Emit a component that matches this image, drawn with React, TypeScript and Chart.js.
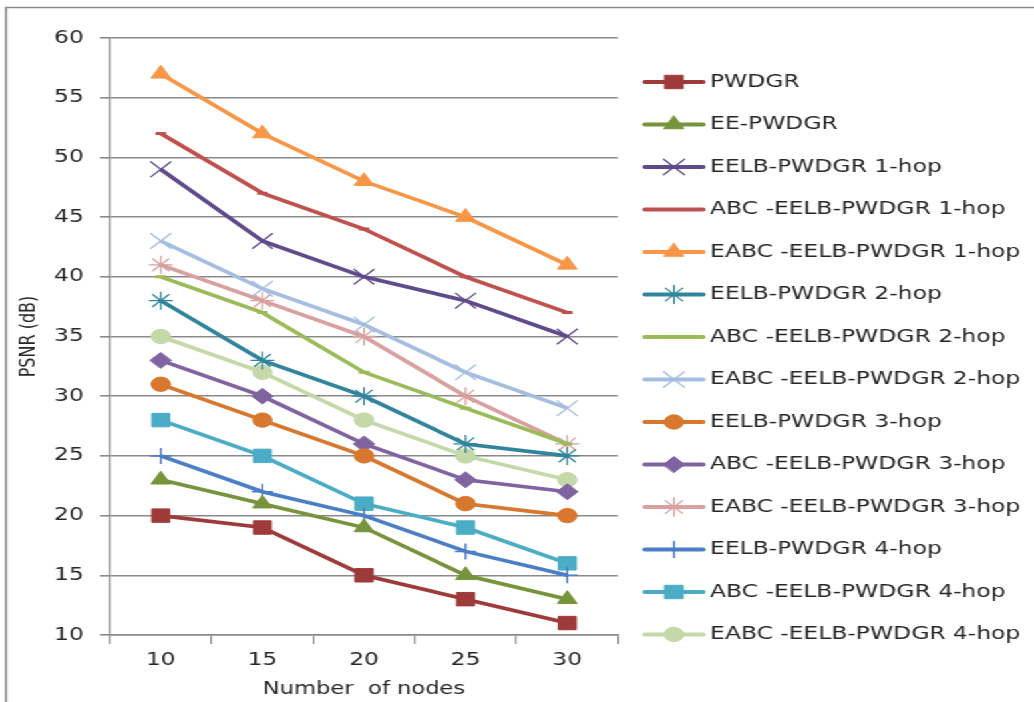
import React, { useEffect, useRef } from "react";
import { Chart, registerables } from "chart.js";
import { drawPoint } from "chart.js/helpers";

Chart.register(...registerables);

// ---- data ----
const categories = ["10", "15", "20", "25", "30"];

const pwdgr = [20, 19, 15, 13, 11];
const eePwdgr = [23, 21, 19, 15, 13];
const eelb1 = [49, 43, 40, 38, 35];
const abc1 = [52, 47, 44, 40, 37];
const eabc1 = [57, 52, 48, 45, 41];
const eelb2 = [38, 33, 30, 26, 25];
const abc2 = [40, 37, 32, 29, 26];
const eabc2 = [43, 39, 36, 32, 29];
const eelb3 = [31, 28, 25, 21, 20];
const abc3 = [33, 30, 26, 23, 22];
const eabc3 = [41, 38, 35, 30, 26];
const eelb4 = [25, 22, 20, 17, 15];
const abc4 = [28, 25, 21, 19, 16];
const eabc4 = [35, 32, 28, 25, 23];

const seriesValues = [pwdgr, eePwdgr, eelb1, abc1, eabc1, eelb2, abc2, eabc2, eelb3, abc3, eabc3, eelb4, abc4, eabc4];

const seriesLabels = [
  "PWDGR",
  "EE-PWDGR",
  "EELB-PWDGR 1-hop",
  "ABC -EELB-PWDGR 1-hop",
  "EABC -EELB-PWDGR 1-hop",
  "EELB-PWDGR 2-hop",
  "ABC -EELB-PWDGR 2-hop",
  "EABC -EELB-PWDGR 2-hop",
  "EELB-PWDGR 3-hop",
  "ABC -EELB-PWDGR 3-hop",
  "EABC -EELB-PWDGR 3-hop",
  "EELB-PWDGR 4-hop",
  "ABC -EELB-PWDGR 4-hop",
  "EABC -EELB-PWDGR 4-hop",
];

const seriesColors = [
  "#9E3B3A",
  "#77933C",
  "#5F4B8B",
  "#C0504D",
  "#F79646",
  "#31849B",
  "#9BBB59",
  "#A5BEE0",
  "#D8772E",
  "#8064A2",
  "#D9A0A0",
  "#4A7EC5",
  "#4BACC6",
  "#C4D8A8",
];

const seriesMarkers = [
  "rect",
  "triangle",
  "crossRot",
  "line",
  "triangle",
  "star",
  "line",
  "crossRot",
  "circle",
  "rectRot",
  "star",
  "cross",
  "rect",
  "circle",
];

const markerRadius = [9.5, 8.5, 11, 4, 8.5, 9, 4, 11, 7.2, 8, 9, 8, 9.5, 7.2];
const markerBorder = [1, 1, 1.3, 3, 1, 1.3, 3, 1.3, 1, 1, 1.3, 1.5, 1, 1];

// ---- layout (canvas units, canvas stretched horizontally) ----
const STRETCH = 1.3308;
const CW = 1034 / STRETCH;
const CH = 702;
const AREA_LEFT = 110 / STRETCH;
const AREA_RIGHT = 618 / STRETCH;
const AREA_TOP = 38;
const AREA_BOTTOM = 635;
const LEG_X0 = 645 / STRETCH;
const LEG_X1 = 703 / STRETCH;
const LEG_TEXT_X = 710 / STRETCH;
const LEG_Y0 = 82;
const LEG_STEP = 42.5;

const FONT_FAMILY = '"DejaVu Sans", sans-serif';
const TEXT_COLOR = "#262626";
const GRID_COLOR = "#8a8a8a";

const framePlugin = {
  id: "frame",
  beforeDraw(chart: any) {
    const ctx = chart.ctx;
    ctx.save();
    ctx.fillStyle = "#ffffff";
    ctx.fillRect(0, 0, chart.width, chart.height);
    ctx.strokeStyle = "#8c8c8c";
    ctx.lineWidth = 1.6;
    ctx.beginPath();
    ctx.moveTo(4.5, chart.height);
    ctx.lineTo(4.5, 7.5);
    ctx.lineTo(chart.width, 7.5);
    ctx.stroke();
    ctx.restore();
  },
};

const legendPlugin = {
  id: "sideLegend",
  afterDraw(chart: any) {
    const ctx = chart.ctx;
    chart.data.datasets.forEach((ds: any, i: number) => {
      const y = LEG_Y0 + i * LEG_STEP;
      ctx.save();
      ctx.strokeStyle = ds.borderColor;
      ctx.lineWidth = 4;
      ctx.lineCap = "round";
      ctx.beginPath();
      ctx.moveTo(LEG_X0, y);
      ctx.lineTo(LEG_X1, y);
      ctx.stroke();
      if (ds.pointStyle !== "line") {
        ctx.fillStyle = ds.pointBackgroundColor;
        ctx.strokeStyle = ds.pointBorderColor;
        ctx.lineWidth = ds.pointBorderWidth;
        drawPoint(
          ctx,
          { pointStyle: ds.pointStyle, rotation: 0, radius: ds.pointRadius, borderWidth: ds.pointBorderWidth },
          (LEG_X0 + LEG_X1) / 2,
          y
        );
      }
      ctx.fillStyle = TEXT_COLOR;
      ctx.font = `17.6px ${FONT_FAMILY}`;
      ctx.textBaseline = "middle";
      ctx.textAlign = "left";
      ctx.fillText(ds.label, LEG_TEXT_X, y);
      ctx.restore();
    });
  },
};

export default function App() {
  const canvasRef = useRef<HTMLCanvasElement | null>(null);

  useEffect(() => {
    if (!canvasRef.current) return;
    const datasets = seriesValues.map((vals, i) => ({
      label: seriesLabels[i],
      data: vals,
      borderColor: seriesColors[i],
      backgroundColor: seriesColors[i],
      pointBackgroundColor: seriesColors[i],
      pointBorderColor: seriesColors[i],
      pointStyle: seriesMarkers[i],
      pointRadius: markerRadius[i],
      pointBorderWidth: markerBorder[i],
      borderWidth: 3.6,
      tension: 0,
      fill: false,
    }));

    const chart = new Chart(canvasRef.current, {
      type: "line",
      data: { labels: categories, datasets },
      options: {
        animation: false,
        responsive: false,
        devicePixelRatio: 1,
        layout: {
          padding: { left: 0, right: CW - AREA_RIGHT, top: AREA_TOP, bottom: 0 },
        },
        plugins: {
          legend: { display: false },
          tooltip: { enabled: false },
        },
        scales: {
          x: {
            type: "category",
            offset: true,
            grid: {
              display: true,
              offset: true,
              drawOnChartArea: false,
              drawTicks: true,
              tickLength: 9,
              color: GRID_COLOR,
              lineWidth: 1.2,
            },
            border: { display: true, color: GRID_COLOR, width: 1.6 },
            ticks: {
              color: TEXT_COLOR,
              font: { family: FONT_FAMILY, size: 17.5 },
              padding: 6,
              maxRotation: 0,
            },
            title: {
              display: true,
              text: "Number  of nodes",
              color: TEXT_COLOR,
              font: { family: FONT_FAMILY, size: 17 },
              padding: { top: 0, bottom: 2 },
            },
            afterFit(scale: any) {
              scale.height = CH - AREA_BOTTOM;
            },
          },
          y: {
            min: 10,
            max: 60,
            ticks: {
              stepSize: 5,
              color: TEXT_COLOR,
              font: { family: FONT_FAMILY, size: 17.5 },
              padding: 12.3,
            },
            grid: {
              color: GRID_COLOR,
              lineWidth: 1.6,
              drawTicks: true,
              tickLength: 7.5,
            },
            border: { display: true, color: GRID_COLOR, width: 1.2 },
            title: {
              display: true,
              text: "PSNR (dB)",
              color: TEXT_COLOR,
              font: { family: FONT_FAMILY, size: 16 },
              padding: { top: 12, bottom: 0 },
            },
            afterFit(scale: any) {
              scale.width = AREA_LEFT;
            },
          },
        },
      } as any,
      plugins: [framePlugin, legendPlugin],
    });
    return () => chart.destroy();
  }, []);

  return (
    <div
      style={{
        position: "absolute",
        left: 0,
        top: 0,
        width: CW,
        height: CH,
        transform: `scaleX(${STRETCH})`,
        transformOrigin: "0 0",
        background: "#fff",
      }}
    >
      <canvas ref={canvasRef} width={Math.round(CW)} height={CH} style={{ width: Math.round(CW), height: CH, display: "block" }} />
    </div>
  );
}
